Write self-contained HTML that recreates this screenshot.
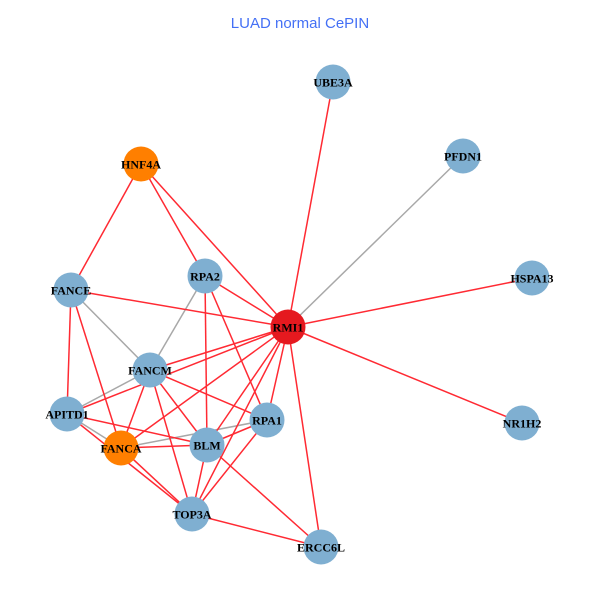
<!DOCTYPE html>
<html><head><meta charset="utf-8"><style>html,body{margin:0;padding:0;background:#fff}svg{display:block}
.l{font:bold 12px "Liberation Serif",serif;text-anchor:middle;fill:#000}
.r line{stroke:#ff2a33;stroke-width:1.5}.g line{stroke:#a8a8a8;stroke-width:1.5}</style></head><body>
<svg width="600" height="600" viewBox="0 0 600 600" xmlns="http://www.w3.org/2000/svg">
<rect width="600" height="600" fill="#fff"/>
<text x="300" y="28" text-anchor="middle" font-family="Liberation Sans, sans-serif" font-size="15" fill="#4470f5">LUAD normal CePIN</text>
<g class="g">
<line x1="463" y1="156" x2="288" y2="327"/><line x1="71" y1="290" x2="150" y2="370"/><line x1="205" y1="276" x2="150" y2="370"/><line x1="67" y1="414" x2="150" y2="370"/><line x1="67" y1="414" x2="121" y2="448"/><line x1="121" y1="448" x2="267" y2="420"/>
</g>
<g class="r">
<line x1="333" y1="82" x2="288" y2="327"/><line x1="532" y1="278" x2="288" y2="327"/><line x1="522" y1="423" x2="288" y2="327"/><line x1="321" y1="547" x2="288" y2="327"/>
<line x1="141" y1="164" x2="71" y2="290"/><line x1="141" y1="164" x2="205" y2="276"/><line x1="141" y1="164" x2="288" y2="327"/>
<line x1="71" y1="290" x2="288" y2="327"/><line x1="205" y1="276" x2="288" y2="327"/><line x1="205" y1="276" x2="207" y2="445"/><line x1="205" y1="276" x2="267" y2="420"/>
<line x1="71" y1="290" x2="67" y2="414"/><line x1="71" y1="290" x2="121" y2="448"/>
<line x1="150" y1="370" x2="288" y2="327"/><line x1="67" y1="414" x2="288" y2="327"/><line x1="121" y1="448" x2="288" y2="327"/><line x1="207" y1="445" x2="288" y2="327"/><line x1="267" y1="420" x2="288" y2="327"/><line x1="192" y1="514" x2="288" y2="327"/>
<line x1="150" y1="370" x2="121" y2="448"/><line x1="150" y1="370" x2="207" y2="445"/><line x1="150" y1="370" x2="267" y2="420"/><line x1="150" y1="370" x2="192" y2="514"/>
<line x1="67" y1="414" x2="207" y2="445"/><line x1="67" y1="414" x2="192" y2="514"/>
<line x1="121" y1="448" x2="207" y2="445"/><line x1="121" y1="448" x2="192" y2="514"/>
<line x1="207" y1="445" x2="267" y2="420"/><line x1="207" y1="445" x2="192" y2="514"/><line x1="207" y1="445" x2="321" y2="547"/>
<line x1="267" y1="420" x2="192" y2="514"/><line x1="192" y1="514" x2="321" y2="547"/>
</g>
<g fill="#7fafd1">
<circle cx="333" cy="82" r="17.5"/><circle cx="463" cy="156" r="17.5"/><circle cx="205" cy="276" r="17.5"/><circle cx="71" cy="290" r="17.5"/><circle cx="532" cy="278" r="17.5"/><circle cx="150" cy="370" r="17.5"/><circle cx="67" cy="414" r="17.5"/><circle cx="267" cy="420" r="17.5"/><circle cx="522" cy="423" r="17.5"/><circle cx="207" cy="445" r="17.5"/><circle cx="192" cy="514" r="17.5"/><circle cx="321" cy="547" r="17.5"/>
</g>
<circle cx="141" cy="164" r="17.5" fill="#ff7f00"/><circle cx="121" cy="448" r="17.5" fill="#ff7f00"/><circle cx="288" cy="327" r="17.5" fill="#e5191f"/>
<g class="l">
<text x="333" y="86.5">UBE3A</text><text x="463" y="160.5">PFDN1</text><text x="141" y="168.5">HNF4A</text><text x="205" y="280.5">RPA2</text><text x="71" y="294.5">FANCE</text><text x="532" y="282.5">HSPA13</text><text x="288" y="331.5">RMI1</text><text x="150" y="374.5">FANCM</text><text x="67" y="418.5">APITD1</text><text x="267" y="424.5">RPA1</text><text x="522" y="427.5">NR1H2</text><text x="121" y="452.5">FANCA</text><text x="207" y="449.5">BLM</text><text x="192" y="518.5">TOP3A</text><text x="321" y="551.5">ERCC6L</text>
</g>
</svg></body></html>
